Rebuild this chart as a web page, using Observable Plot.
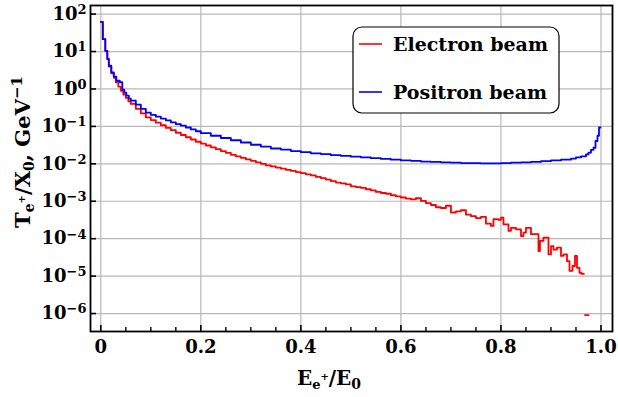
<!DOCTYPE html>
<html><head><meta charset="utf-8">
<script src="https://cdn.jsdelivr.net/npm/d3@7"></script>
<script src="https://cdn.jsdelivr.net/npm/@observablehq/plot@0.6"></script>
<style>body{margin:0;background:#fff} svg{display:block}</style>
</head><body><div id="chart"></div>
<script>
// x positions (left bin edges) and log10 of T/X0
const electronX = [0,0.004,0.009,0.013,0.016,0.021,0.026,0.030,0.035,0.040,0.045,0.050,0.055,0.06,0.07,0.08,0.09,0.10,0.11,0.12,0.13,0.14,0.15,0.16,0.17,0.18,0.19,
  0.20,0.21,0.22,0.23,0.24,0.25,0.26,0.27,0.28,0.29,0.30,0.31,0.32,0.33,0.34,0.35,0.36,0.37,0.38,0.39,0.40,0.41,0.42,0.43,0.44,0.45,0.46,0.47,0.48,0.49,0.50,0.51,0.52,0.53,0.54,0.55,0.56,0.57,0.58,0.59,0.60,
  0.61,0.62,0.63,0.64,0.65,0.66,0.67,0.68,0.69,0.70,0.71,0.72,0.73,0.74,0.75,0.76,0.77,0.78,0.785,0.795,0.80,0.805,0.81,0.815,0.82,0.83,0.84,0.845,0.85,0.86,0.87,0.875,0.878,0.885,0.89,0.895,0.90,0.905,0.912,0.92,0.925,0.932,0.937,0.943,0.948,0.952,0.957,0.961,0.966];
const electronLog = [1.79,1.33,1.02,0.80,0.60,0.42,0.30,0.18,0.06,-0.05,-0.15,-0.24,-0.33,-0.40,-0.53,-0.65,-0.76,-0.83,-0.90,-0.97,-1.04,-1.10,-1.17,-1.23,-1.29,-1.35,-1.41,
  -1.46,-1.51,-1.56,-1.61,-1.66,-1.71,-1.76,-1.80,-1.84,-1.88,-1.92,-1.96,-2.00,-2.04,-2.07,-2.10,-2.13,-2.16,-2.19,-2.22,-2.25,-2.28,-2.31,-2.35,-2.38,-2.42,-2.46,-2.50,-2.52,-2.55,-2.60,-2.62,-2.64,-2.68,-2.71,-2.75,-2.78,-2.80,-2.84,-2.87,-2.90,
  -2.93,-2.95,-2.92,-2.99,-3.05,-3.10,-3.16,-3.18,-3.12,-3.30,-3.27,-3.24,-3.36,-3.40,-3.45,-3.42,-3.60,-3.66,-3.48,-3.50,-3.44,-3.62,-3.62,-3.79,-3.71,-3.75,-3.93,-3.84,-3.71,-3.88,-3.88,-4.33,-4.06,-3.97,-3.97,-4.42,-4.20,-4.29,-4.24,-4.46,-4.42,-4.60,-4.86,-4.73,-4.46,-4.78,-4.91,-4.94,-4.94];
const electronTailX = [0.968, 0.975];
const electronTailLog = [-6.04, -6.04];

const positronX = [0,0.004,0.009,0.013,0.016,0.021,0.026,0.031,0.038,0.043,0.047,0.051,0.056,0.06,0.07,0.08,0.09,0.10,0.11,0.12,0.13,0.14,0.15,0.16,0.17,0.18,0.19,
  0.20,0.22,0.24,0.26,0.28,0.30,0.32,0.34,0.36,0.38,0.40,0.42,0.44,0.46,0.48,0.50,0.52,0.54,0.56,0.58,0.60,0.62,0.64,0.66,0.68,0.70,0.72,0.74,0.76,0.78,0.80,0.82,0.84,0.86,0.88,0.90,0.92,0.94,0.95,0.96,0.97,0.975,0.98,0.985,0.989,0.993,0.996,0.999];
const positronLog = [1.79,1.33,1.02,0.80,0.62,0.44,0.33,0.22,0.18,-0.02,-0.10,-0.18,-0.26,-0.31,-0.42,-0.53,-0.63,-0.69,-0.74,-0.79,-0.84,-0.89,-0.94,-0.98,-1.03,-1.08,-1.13,
  -1.18,-1.25,-1.31,-1.37,-1.43,-1.49,-1.54,-1.59,-1.62,-1.66,-1.69,-1.72,-1.74,-1.77,-1.79,-1.81,-1.83,-1.85,-1.87,-1.89,-1.91,-1.92,-1.94,-1.95,-1.96,-1.97,-1.98,-1.98,-1.99,-1.99,-1.98,-1.97,-1.96,-1.95,-1.93,-1.91,-1.89,-1.86,-1.83,-1.80,-1.75,-1.70,-1.63,-1.57,-1.39,-1.25,-1.03,-1.03];

const xMajorTicks = [0, 0.2, 0.4, 0.6, 0.8, 1.0];
const xMinorTicks = [0.05,0.1,0.15,0.25,0.3,0.35,0.45,0.5,0.55,0.65,0.7,0.75,0.85,0.9,0.95];
const yExponents = [-6, -5, -4, -3, -2, -1, 0, 1, 2];
const seriesNames = ["Electron beam", "Positron beam"];
const seriesColors = ["#ff0000", "#0000ff"];

const toRows = (xs, ls) => xs.map((x, i) => ({x, y: 10 ** ls[i]}));
const electron = toRows(electronX, electronLog);
const electronTail = toRows(electronTailX, electronTailLog);
const positron = toRows(positronX, positronLog);
const yTicks = yExponents.map(e => 10 ** e);

const FONT = "DejaVu Serif";
const GRID = "#b8b8b8";

const chart = Plot.plot({
  width: 618, height: 397,
  marginLeft: 90, marginRight: 6, marginTop: 5, marginBottom: 66,
  style: {fontFamily: FONT, fontWeight: "bold", fontSize: "18px", background: "white", color: "black"},
  x: {domain: [-0.0206, 1.023], label: null},
  y: {type: "log", domain: [10 ** -6.48, 10 ** 2.23], label: null},
  marks: [
    Plot.gridX(xMajorTicks, {stroke: GRID, strokeOpacity: 1, strokeWidth: 1.2}),
    Plot.gridY(yTicks, {stroke: GRID, strokeOpacity: 1, strokeWidth: 1.2}),
    Plot.line(electron, {x: "x", y: "y", curve: "step-after", stroke: seriesColors[0], strokeWidth: 1.8}),
    Plot.line(electronTail, {x: "x", y: "y", curve: "step-after", stroke: seriesColors[0], strokeWidth: 1.8}),
    Plot.line(positron, {x: "x", y: "y", curve: "step-after", stroke: seriesColors[1], strokeWidth: 1.8}),
    Plot.frame({stroke: "black", strokeWidth: 1.8}),
    Plot.axisX(xMajorTicks, {tickSize: -6, strokeWidth: 1.6, tickFormat: () => ""}),
    Plot.axisX(xMinorTicks, {tickSize: -4, strokeWidth: 1.4, tickFormat: () => ""}),
    Plot.axisX(xMajorTicks, {tickSize: 0, tickPadding: 9, tickFormat: d => d === 0 ? "0" : d.toFixed(1)}),
    Plot.axisY(yTicks, {tickSize: -6, strokeWidth: 1.6, tickFormat: () => ""}),
    Plot.axisY(yTicks, {tickSize: 0, tickPadding: 4, tickFormat: d => "10|" + String(Math.round(Math.log10(d))).replace("-", "\u2212")})
  ]
});
document.getElementById("chart").appendChild(chart);

const svg = d3.select(chart);
// superscript exponents on y tick labels
svg.selectAll('g[aria-label="y-axis tick label"] text').each(function() {
  const t = d3.select(this);
  const parts = t.text().split("|");
  t.text(parts[0]);
  t.append("tspan").attr("dy", "-0.45em").attr("font-size", "13px").text(parts[1]);
});

// axis titles
const xt = svg.append("text").attr("x", 329).attr("y", 385).attr("text-anchor", "middle")
  .attr("font-family", FONT).attr("font-weight", "bold").attr("font-size", "20px");
xt.append("tspan").text("E");
xt.append("tspan").attr("dy", "4").attr("font-size", "13px").text("e");
xt.append("tspan").attr("dy", "-9").attr("font-size", "10px").text("+");
xt.append("tspan").attr("dy", "5").text("/E");
xt.append("tspan").attr("dy", "4").attr("font-size", "14px").text("0");

const yt = svg.append("text").attr("transform", "translate(30,152) rotate(-90)").attr("text-anchor", "middle")
  .attr("font-family", FONT).attr("font-weight", "bold").attr("font-size", "21px");
yt.append("tspan").text("T");
yt.append("tspan").attr("dy", "4").attr("font-size", "14px").text("e");
yt.append("tspan").attr("dy", "-9").attr("font-size", "10px").text("+");
yt.append("tspan").attr("dy", "5").text("/X");
yt.append("tspan").attr("dy", "4").attr("font-size", "14px").text("0");
yt.append("tspan").attr("dy", "-4").text(", GeV");
yt.append("tspan").attr("dy", "-8").attr("font-size", "15px").text("\u22121");

// legend
const lg = svg.append("g");
lg.append("rect").attr("x", 353).attr("y", 27).attr("width", 206).attr("height", 86).attr("rx", 9)
  .attr("fill", "white").attr("stroke", "black").attr("stroke-width", 1.2);
seriesNames.forEach((name, i) => {
  const cy = 44 + i * 48;
  lg.append("line").attr("x1", 359).attr("x2", 382).attr("y1", cy).attr("y2", cy)
    .attr("stroke", seriesColors[i]).attr("stroke-width", 1.6);
  lg.append("text").attr("x", 393).attr("y", cy + 7).attr("text-anchor", "start").attr("font-family", FONT).attr("font-weight", "bold")
    .attr("font-size", "19px").text(name);
});
</script>
</body></html>
